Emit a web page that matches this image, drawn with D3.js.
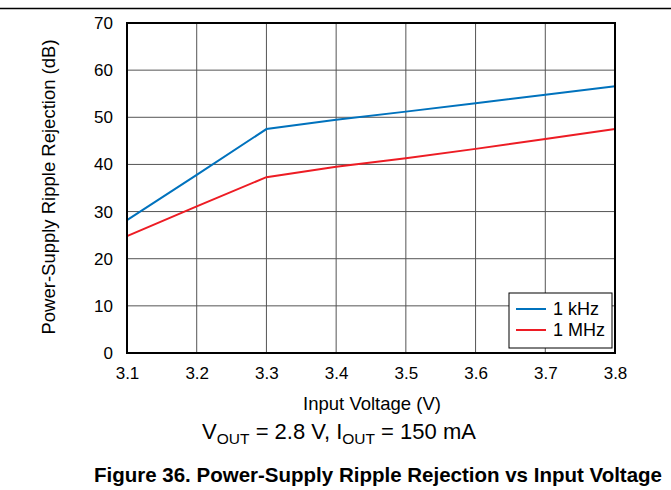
<!DOCTYPE html>
<html><head><meta charset="utf-8">
<script src="https://cdn.jsdelivr.net/npm/d3@7"></script>
<style>body{margin:0;background:#fff;font-family:"Liberation Sans",Arial,sans-serif;}</style>
</head><body><svg id="c" width="671" height="490"></svg>
<script>
const voltages = [3.1, 3.2, 3.3, 3.4, 3.5, 3.6, 3.7, 3.8];
const psrr1kHz = [28.2, 37.8, 47.5, 49.5, 51.2, 53.0, 54.8, 56.6];
const psrr1MHz = [24.8, 31.1, 37.3, 39.5, 41.3, 43.3, 45.4, 47.5];
const xTicks = [3.1, 3.2, 3.3, 3.4, 3.5, 3.6, 3.7, 3.8];
const yTicks = [0, 10, 20, 30, 40, 50, 60, 70];
const seriesNames = ["1 kHz", "1 MHz"];
const seriesColors = ["#0072bd", "#ed1c24"];

const FF = '"Liberation Sans",Arial,sans-serif';
const svg = d3.select("#c");
const L = 127, R = 615, T = 23, B = 353;
const x = d3.scaleLinear().domain([3.1, 3.8]).range([L, R]);
const y = d3.scaleLinear().domain([0, 70]).range([B, T]);

svg.append("line").attr("x1", 0).attr("x2", 671).attr("y1", 8.5).attr("y2", 8.5)
  .attr("stroke", "#000").attr("stroke-width", 1.5);

// grid
svg.append("g").selectAll("line").data(xTicks).join("line")
  .attr("x1", d => x(d)).attr("x2", d => x(d)).attr("y1", T).attr("y2", B)
  .attr("stroke", "#555").attr("stroke-width", 1);
svg.append("g").selectAll("line").data(yTicks).join("line")
  .attr("x1", L).attr("x2", R).attr("y1", d => y(d)).attr("y2", d => y(d))
  .attr("stroke", "#555").attr("stroke-width", 1);

// axes (labels only)
const xa = svg.append("g").attr("transform", `translate(0,${B})`)
  .call(d3.axisBottom(x).tickValues(xTicks).tickFormat(d3.format(".1f")).tickSize(0).tickPadding(14));
const ya = svg.append("g").attr("transform", `translate(${L},0)`)
  .call(d3.axisLeft(y).tickValues(yTicks).tickSize(0).tickPadding(14));
[xa, ya].forEach(a => {
  a.select(".domain").remove();
  a.attr("font-size", 17).attr("font-family", FF);
  a.selectAll("text").attr("fill", "#000");
});

// lines
const line = d3.line().x((d, i) => x(voltages[i])).y(d => y(d));
[psrr1kHz, psrr1MHz].forEach((s, k) => {
  svg.append("path").attr("d", line(s)).attr("fill", "none")
    .attr("stroke", seriesColors[k]).attr("stroke-width", 2);
});

// border
svg.append("rect").attr("x", L).attr("y", T).attr("width", R - L).attr("height", B - T)
  .attr("fill", "none").attr("stroke", "#000").attr("stroke-width", 2);

// legend
const lg = svg.append("g").attr("font-family", FF);
lg.append("rect").attr("x", 509).attr("y", 293).attr("width", 103).attr("height", 55)
  .attr("fill", "#fff").attr("stroke", "#000").attr("stroke-width", 1);
seriesNames.forEach((n, i) => {
  const yy = 309 + i * 21;
  lg.append("line").attr("x1", 516).attr("x2", 546).attr("y1", yy).attr("y2", yy)
    .attr("stroke", seriesColors[i]).attr("stroke-width", 2);
  lg.append("text").attr("x", 553).attr("y", yy + 6).attr("font-size", 18).text(n);
});

// axis titles
svg.append("text").attr("transform", `translate(55,187) rotate(-90)`)
  .attr("text-anchor", "middle").attr("font-size", 18.5).attr("font-family", FF)
  .text("Power-Supply Ripple Rejection (dB)");
svg.append("text").attr("x", 372).attr("y", 410).attr("text-anchor", "middle")
  .attr("font-size", 18.5).attr("font-family", FF).text("Input Voltage (V)");

const sub = svg.append("text").attr("x", 339).attr("y", 439).attr("text-anchor", "middle")
  .attr("font-size", 22).attr("font-family", FF);
sub.append("tspan").text("V");
sub.append("tspan").attr("dy", 5).attr("font-size", 15.5).text("OUT");
sub.append("tspan").attr("dy", -5).text(" = 2.8 V, I");
sub.append("tspan").attr("dy", 5).attr("font-size", 15.5).text("OUT");
sub.append("tspan").attr("dy", -5).text(" = 150 mA");

svg.append("text").attr("x", 378).attr("y", 482).attr("text-anchor", "middle")
  .attr("font-size", 20.5).attr("font-weight", "bold").attr("font-family", FF)
  .text("Figure 36. Power-Supply Ripple Rejection vs Input Voltage");
</script></body></html>
